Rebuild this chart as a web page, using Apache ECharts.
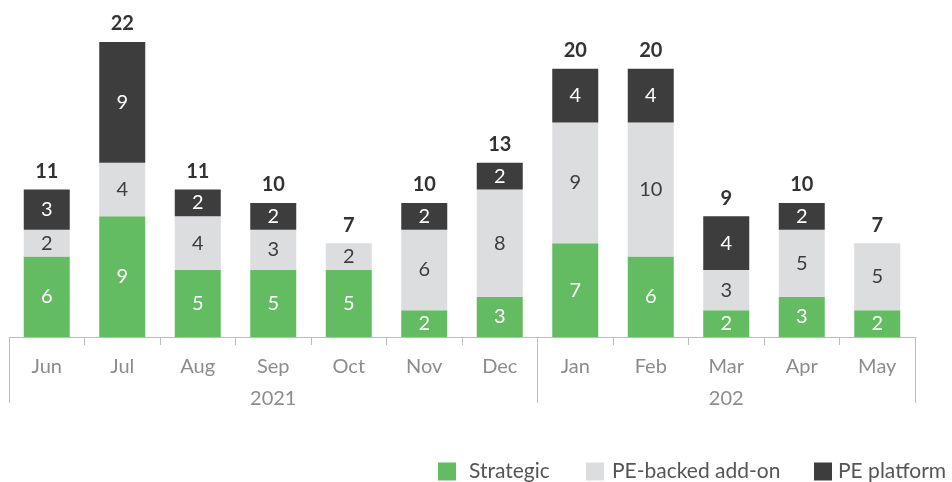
<!DOCTYPE html>
<html>
<head>
<meta charset="utf-8">
<style>
  html, body { margin: 0; padding: 0; background: #fff; }
  #chart { width: 952px; height: 482px; }
</style>
<script src="https://cdn.jsdelivr.net/npm/echarts@6/dist/echarts.min.js"></script>
</head>
<body>
<div id="chart"></div>
<script>
  // months and year band labels
  const months = ['Jun', 'Jul', 'Aug', 'Sep', 'Oct', 'Nov', 'Dec', 'Jan', 'Feb', 'Mar', 'Apr', 'May'];
  const yearLabels = ['', '', '', '2021', '', '', '', '', '', '202', '', ''];

  // deal counts per type
  const seriesNames = ['Strategic', 'PE-backed add-on', 'PE platform'];
  const strategic = [6, 9, 5, 5, 5, 2, 3, 7, 6, 2, 3, 2];
  const peAddOn = [2, 4, 4, 3, 2, 6, 8, 9, 10, 3, 5, 5];
  const pePlatform = [3, 9, 2, 2, 0, 2, 2, 4, 4, 4, 2, 0];
  const totals = [11, 22, 11, 10, 7, 10, 13, 20, 20, 9, 10, 7];

  const font = 'Lato';
  const colors = ['#63bc61', '#dcdddf', '#3d3d3d'];

  const chart = echarts.init(document.getElementById('chart'));

  const segLabel = function (color) {
    return {
      show: true,
      position: 'inside',
      color: color,
      fontFamily: font,
      fontSize: 20,
      formatter: function (p) { return p.value ? String(p.value) : ''; }
    };
  };

  // one legend per item so each can sit where the original has it
  const legendPos = [438, 586, 814];
  const legendPad = [8, 3, 1];
  const legends = seriesNames.map(function (name, i) {
    return {
      left: legendPos[i],
      top: 461,
      padding: 0,
      icon: 'rect',
      itemWidth: 18,
      itemHeight: 18,
      selectedMode: false,
      data: [name],
      textStyle: { fontFamily: font, fontSize: 21, color: '#555', padding: [0, 0, 0, legendPad[i]] }
    };
  });

  const option = {
    animation: false,
    color: colors,
    grid: { left: 9, right: 37, top: 42, bottom: 145 },
    legend: legends,
    xAxis: [
      {
        type: 'category',
        data: months,
        position: 'bottom',
        axisLine: { lineStyle: { color: '#bcbcbc', width: 1 } },
        axisTick: { show: true, interval: 0, length: 8, lineStyle: { color: '#bcbcbc' } },
        axisLabel: { interval: 0, margin: 20, color: '#8c8c8c', fontFamily: font, fontSize: 20 }
      },
      {
        type: 'category',
        data: yearLabels,
        position: 'bottom',
        axisLine: { show: false },
        axisTick: {
          show: true,
          length: 66,
          interval: function (i) { return i === 0 || i === 7; },
          lineStyle: { color: '#bcbcbc' }
        },
        axisLabel: { interval: 0, margin: 52, color: '#8c8c8c', fontFamily: font, fontSize: 20 }
      }
    ],
    yAxis: { type: 'value', min: 0, max: 22, show: false },
    series: [
      {
        name: seriesNames[0], type: 'bar', stack: 'deals', barWidth: 46,
        data: strategic, label: segLabel('#ffffff')
      },
      {
        name: seriesNames[1], type: 'bar', stack: 'deals', barWidth: 46,
        data: peAddOn, label: segLabel('#3d3d3d')
      },
      {
        name: seriesNames[2], type: 'bar', stack: 'deals', barWidth: 46,
        data: pePlatform, label: segLabel('#ffffff')
      },
      {
        name: 'total', type: 'bar', stack: 'deals', barWidth: 46,
        data: months.map(function () { return 0; }),
        label: {
          show: true,
          position: 'top',
          distance: 8,
          color: '#333',
          fontFamily: font,
          fontWeight: 'bold',
          fontSize: 20,
          formatter: function (p) { return String(totals[p.dataIndex]); }
        }
      }
    ]
  };

  chart.setOption(option);
</script>
</body>
</html>
